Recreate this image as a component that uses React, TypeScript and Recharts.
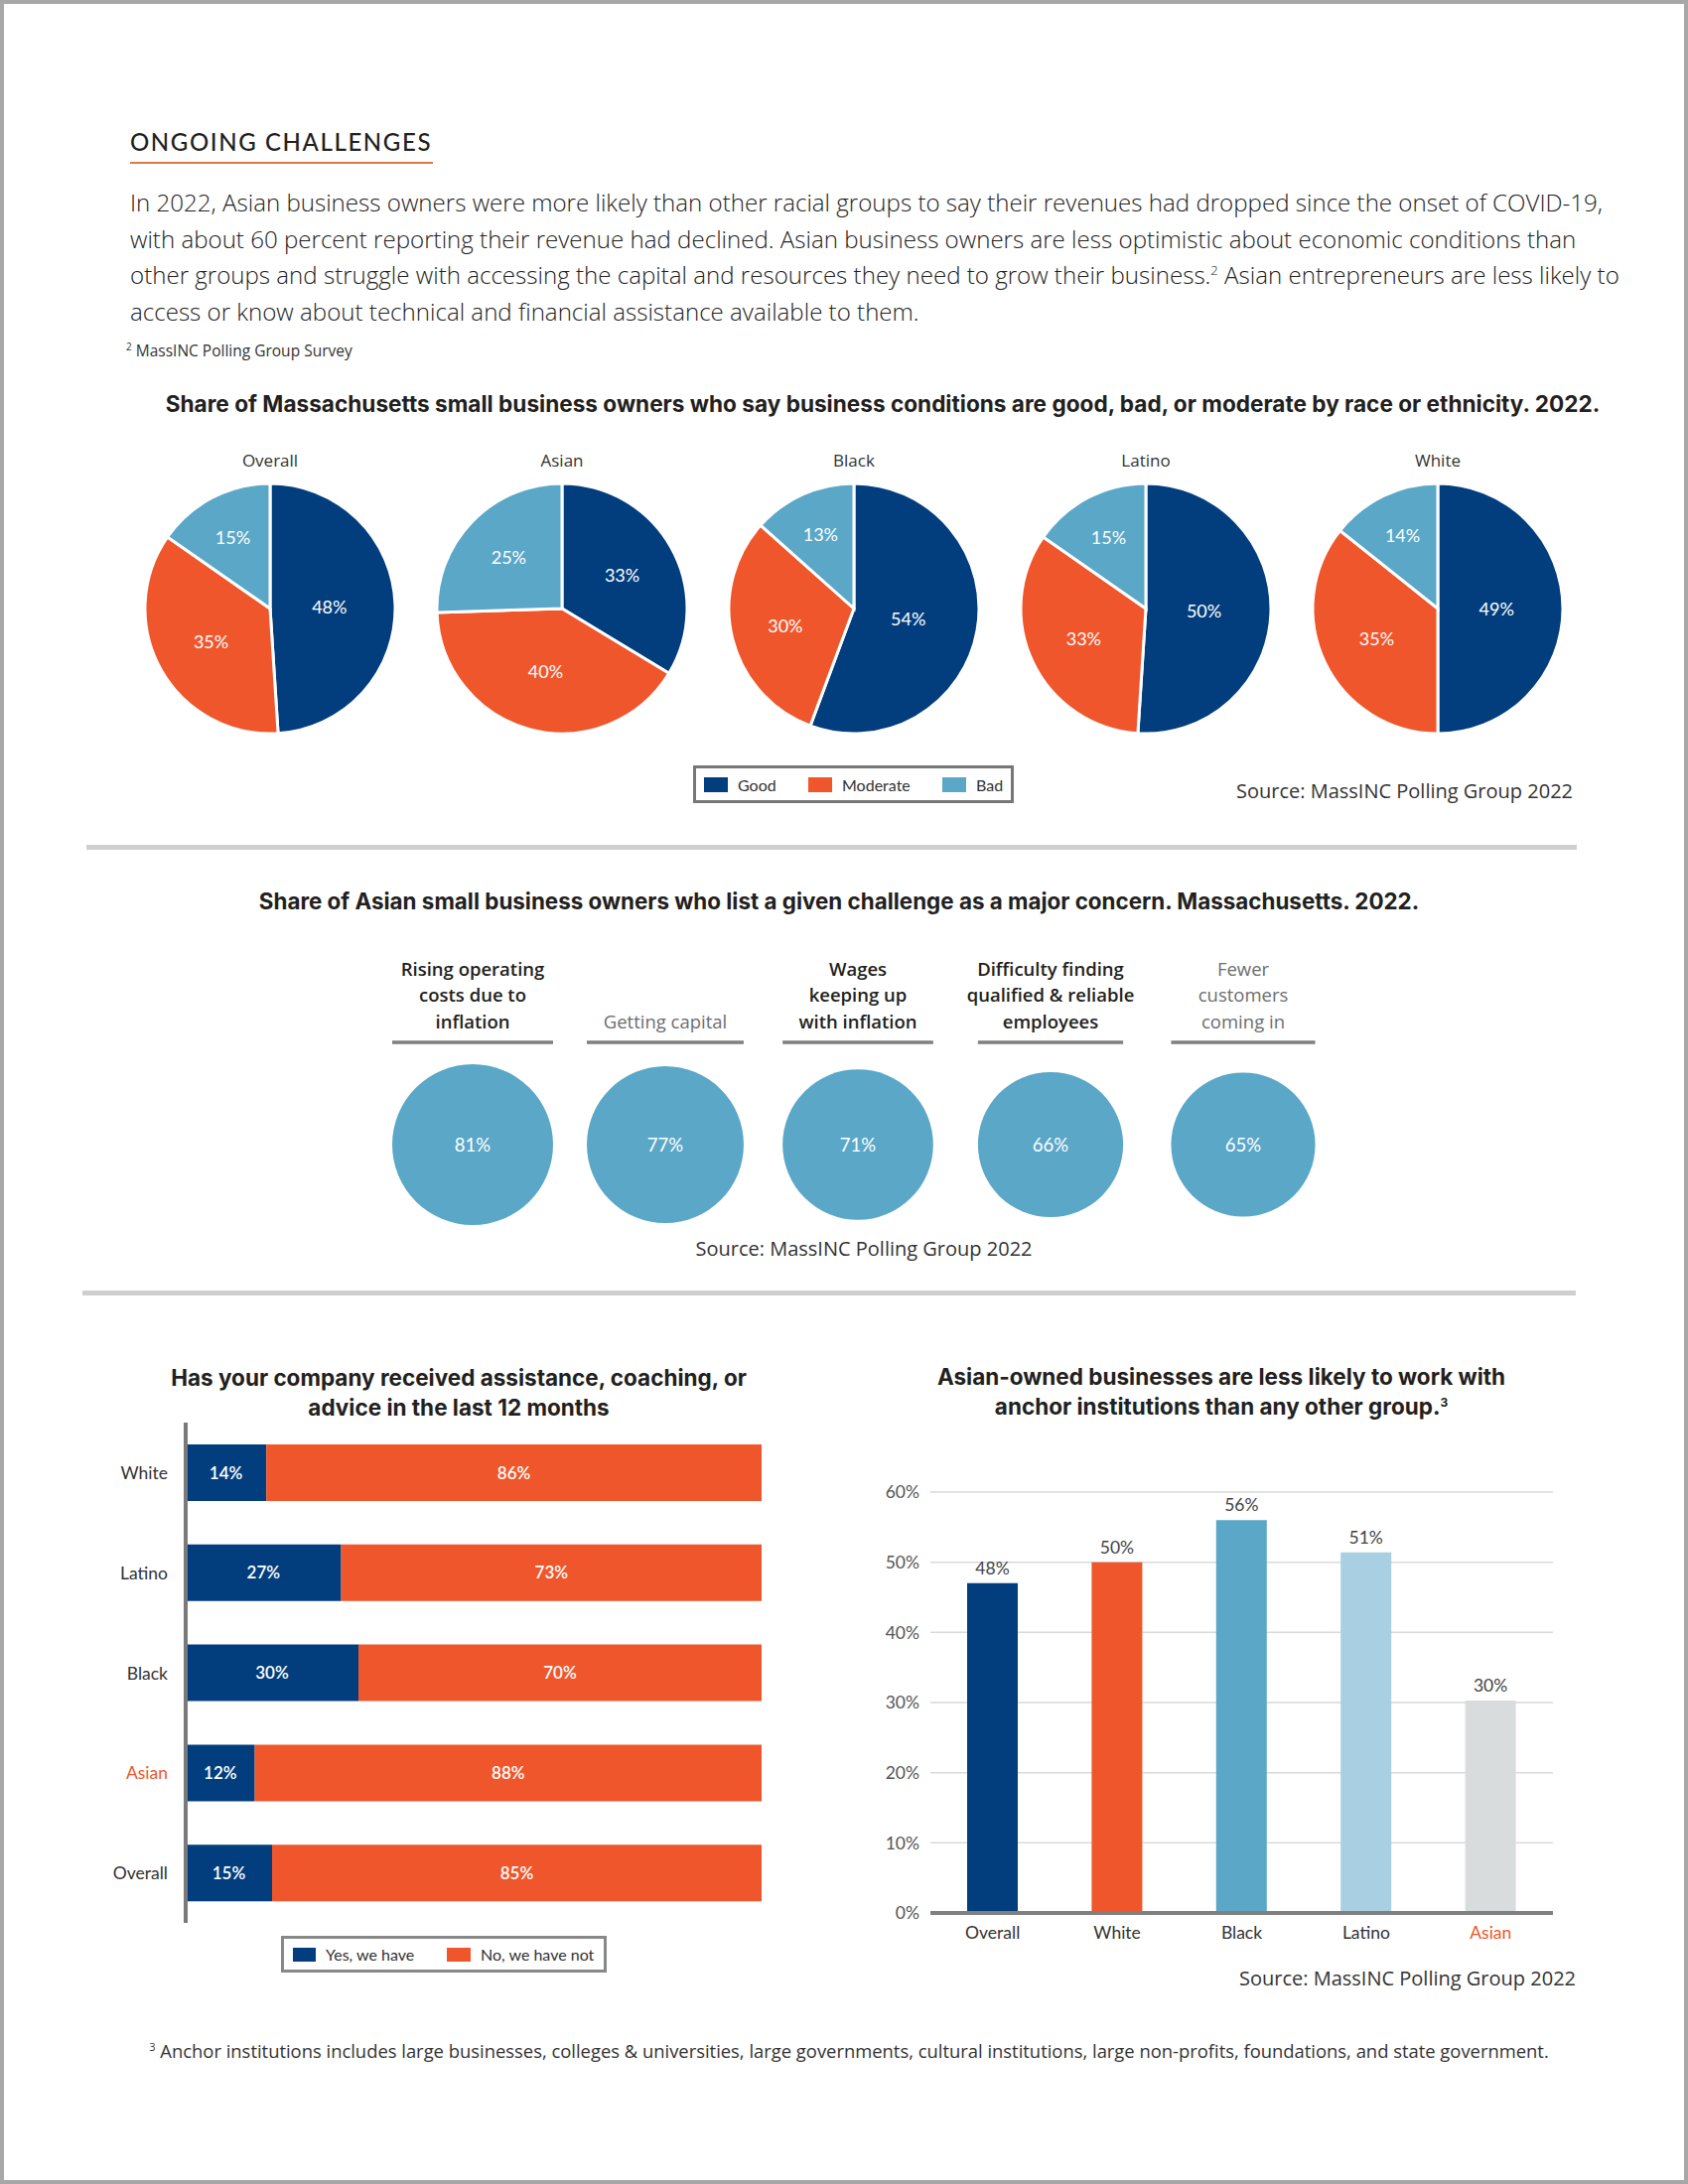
import React from "react";
import {
  Bar,
  BarChart,
  CartesianGrid,
  Cell,
  LabelList,
  Pie,
  PieChart,
  Scatter,
  ScatterChart,
  XAxis,
  YAxis,
  ZAxis,
} from "recharts";

// business conditions by race / ethnicity (2022)
const conditionGroups = ["Overall", "Asian", "Black", "Latino", "White"];
const conditionLevels = ["Good", "Moderate", "Bad"];
const goodShares = [48, 33, 54, 50, 49];
const moderateShares = [35, 40, 30, 33, 35];
const badShares = [15, 25, 13, 15, 14];

// major concerns of Asian owners
const challengeNames = [
  "Rising operating costs due to inflation",
  "Getting capital",
  "Wages keeping up with inflation",
  "Difficulty finding qualified & reliable employees",
  "Fewer customers coming in",
];
const challengeHeaderLines = [
  ["Rising operating", "costs due to", "inflation"],
  ["Getting capital"],
  ["Wages", "keeping up", "with inflation"],
  ["Difficulty finding", "qualified & reliable", "employees"],
  ["Fewer", "customers", "coming in"],
];
const challengeBold = [true, false, true, true, false];
const challengeShares = [81, 77, 71, 66, 65];

// assistance received in last 12 months
const assistanceGroups = ["White", "Latino", "Black", "Asian", "Overall"];
const assistanceYes = [14, 27, 30, 12, 15];
const assistanceNo = [86, 73, 70, 88, 85];

// work with anchor institutions
const anchorGroups = ["Overall", "White", "Black", "Latino", "Asian"];
const anchorShares = [47, 50, 56, 51.4, 30.3];
const anchorLabels = ["48%", "50%", "56%", "51%", "30%"];
const anchorTicks = [0, 10, 20, 30, 40, 50, 60];

const NAVY = "#023e7d";
const ORANGE = "#f0562b";
const SKY = "#5aa7c8";
const PALE = "#a9cfe3";
const GREY = "#d9dcdd";
const INK = "#231f20";
const FONT = "Lato, 'Open Sans', sans-serif";
const BODY = "'Open Sans', Lato, sans-serif";
const HEAD = "Inter, 'Open Sans', sans-serif";

const levelColors = [NAVY, ORANGE, SKY];
const anchorColors = [NAVY, ORANGE, SKY, PALE, GREY];

const pieData = conditionGroups.map((group, i) => ({
  group,
  rows: conditionLevels.map((level, k) => ({
    level,
    value: [goodShares, moderateShares, badShares][k][i],
  })),
}));

const challengeData = challengeNames.map((challenge, i) => ({
  challenge,
  share: challengeShares[i],
  row: "Asian",
}));

const assistanceData = assistanceGroups.map((group, i) => ({
  group,
  yes: assistanceYes[i],
  no: assistanceNo[i],
}));

const anchorData = anchorGroups.map((group, i) => ({
  group,
  share: anchorShares[i],
  label: anchorLabels[i],
}));

const BUBBLE_R100 = 90;

const renderPieLabel = (p: any) => {
  const rad = Math.PI / 180;
  const r = p.outerRadius * (0.72 - 0.5 * p.percent);
  const x = p.cx + r * Math.cos(-p.midAngle * rad);
  const y = p.cy + r * Math.sin(-p.midAngle * rad);
  return (
    <text x={x} y={y} fill="#fff" fontSize={18} fontFamily={FONT} textAnchor="middle" dominantBaseline="central">
      {p.value}%
    </text>
  );
};

const ChallengeTick = (props: any) => {
  const { x, y, payload } = props;
  const i = challengeNames.indexOf(payload.value);
  const lines = challengeHeaderLines[i];
  const bold = challengeBold[i];
  const w = 2 * BUBBLE_R100 * Math.sqrt(challengeShares[i] / 100);
  return (
    <g>
      {lines.map((ln, k) => (
        <text
          key={k}
          x={x}
          y={y - 14 - (lines.length - 1 - k) * 26.7}
          textAnchor="middle"
          fontSize={18.5}
          fontFamily={BODY}
          fontWeight={bold ? 600 : 400}
          fill={bold ? INK : "#6d6e71"}
        >
          {ln}
        </text>
      ))}
      <line x1={x - w / 2} x2={x + w / 2} y1={y} y2={y} stroke="#7f7f7f" strokeWidth={3.5} />
    </g>
  );
};

const GroupTick = (props: any) => {
  const { x, y, payload, textAnchor } = props;
  return (
    <text
      x={x}
      y={y}
      textAnchor={textAnchor}
      dominantBaseline="central"
      fontSize={17.5}
      fontFamily={FONT}
      fill={payload.value === "Asian" ? ORANGE : "#333"}
    >
      {payload.value}
    </text>
  );
};

const AnchorXTick = (props: any) => {
  const { x, y, payload } = props;
  return (
    <text
      x={x}
      y={y}
      dy="0.71em"
      textAnchor="middle"
      fontSize={17.5}
      fontFamily={FONT}
      fill={payload.value === "Asian" ? ORANGE : "#333"}
    >
      {payload.value}
    </text>
  );
};

const abs = (left: number, top: number, extra: React.CSSProperties = {}): React.CSSProperties => ({
  position: "absolute",
  left,
  top,
  ...extra,
});

const LegendSwatch = ({ color, label, w = 24, h = 15 }: { color: string; label: string; w?: number; h?: number }) => (
  <span style={{ display: "inline-flex", alignItems: "center" }}>
    <span style={{ display: "inline-block", width: w, height: h, background: color, marginRight: 10 }} />
    <span>{label}</span>
  </span>
);

export default function App() {
  return (
    <div
      style={{
        position: "relative",
        width: 1700,
        height: 2200,
        boxSizing: "border-box",
        border: "4px solid #a8a8a8",
        background: "#fff",
        fontFamily: FONT,
        color: INK,
        overflow: "hidden",
      }}
    >
      <style>{"body{margin:0}"}</style>
      <div style={{ position: "absolute", left: -4, top: -4, width: 1700, height: 2200 }}>
        {/* heading */}
        <div style={abs(131, 128, { fontSize: 24, fontWeight: 500, letterSpacing: 1.6, lineHeight: "30px" })}>
          ONGOING CHALLENGES
        </div>
        <div style={abs(131, 163, { width: 305, height: 2, background: "#dc7a44" })} />

        <div
          style={abs(131, 186, {
            fontFamily: BODY,
            fontWeight: 300,
            fontSize: 24.1,
            lineHeight: "36.7px",
            color: "#222",
            whiteSpace: "nowrap",
          })}
        >
          In 2022, Asian business owners were more likely than other racial groups to say their revenues had dropped since the onset of COVID-19,
          <br />
          with about 60 percent reporting their revenue had declined. Asian business owners are less optimistic about economic conditions than
          <br />
          other groups and struggle with accessing the capital and resources they need to grow their business.
          <sup style={{ fontSize: 13, lineHeight: 0 }}>2</sup> Asian entrepreneurs are less likely to
          <br />
          access or know about technical and financial assistance available to them.
        </div>
        <div style={abs(127, 343, { fontFamily: BODY, fontSize: 15.5, lineHeight: "20px", color: "#333" })}>
          <sup style={{ fontSize: 10, lineHeight: 0 }}>2</sup> MassINC Polling Group Survey
        </div>

        {/* chart 1: pies */}
        <div
          style={abs(89, 393, {
            width: 1600,
            textAlign: "center",
            fontFamily: HEAD,
            fontSize: 22.6,
            fontWeight: 700,
            lineHeight: "28px",
          })}
        >
          Share of Massachusetts small business owners who say business conditions are good, bad, or moderate by race or ethnicity. 2022.
        </div>
        <div style={abs(125, 448, { display: "flex", width: 1470 })}>
          {pieData.map((g) => (
            <div key={g.group} style={{ width: 294, textAlign: "center" }}>
              <div
                style={{
                  fontFamily: BODY,
                  fontSize: 17,
                  lineHeight: "24px",
                  color: "#333",
                  height: 30,
                  paddingTop: 4,
                  boxSizing: "border-box",
                }}
              >
                {g.group}
              </div>
              <PieChart width={294} height={270}>
                <Pie
                  data={g.rows}
                  dataKey="value"
                  nameKey="level"
                  cx="50%"
                  cy="50%"
                  outerRadius={126}
                  startAngle={90}
                  endAngle={-270}
                  stroke="#fff"
                  strokeWidth={3}
                  label={renderPieLabel}
                  labelLine={false}
                  isAnimationActive={false}
                >
                  {g.rows.map((r, k) => (
                    <Cell key={r.level} fill={levelColors[k]} />
                  ))}
                </Pie>
              </PieChart>
            </div>
          ))}
        </div>

        <div
          style={abs(698, 771, {
            width: 323,
            height: 38,
            boxSizing: "border-box",
            border: "3px solid #777",
            fontSize: 16,
            color: "#333",
          })}
        >
          <span style={{ position: "absolute", left: 8, top: 7 }}>
            <LegendSwatch color={NAVY} label={conditionLevels[0]} />
          </span>
          <span style={{ position: "absolute", left: 113, top: 7 }}>
            <LegendSwatch color={ORANGE} label={conditionLevels[1]} />
          </span>
          <span style={{ position: "absolute", left: 248, top: 7 }}>
            <LegendSwatch color={SKY} label={conditionLevels[2]} />
          </span>
        </div>
        <div style={abs(1245, 784, { fontFamily: BODY, fontSize: 20, lineHeight: "26px", color: "#333" })}>
          Source: MassINC Polling Group 2022
        </div>

        <div style={abs(87, 851, { width: 1501, height: 5, background: "#cfcfcf" })} />

        {/* chart 2: bubbles */}
        <div
          style={abs(45, 894, {
            width: 1600,
            textAlign: "center",
            fontFamily: HEAD,
            fontSize: 22.4,
            fontWeight: 700,
            lineHeight: "28px",
          })}
        >
          Share of Asian small business owners who list a given challenge as a major concern. Massachusetts. 2022.
        </div>
        <div style={abs(379, 948)}>
          <ScatterChart width={970} height={300} margin={{ top: 0, right: 0, bottom: 0, left: 0 }}>
            <XAxis
              dataKey="challenge"
              type="category"
              orientation="top"
              height={110}
              axisLine={false}
              tickLine={false}
              interval={0}
              allowDuplicatedCategory={false}
              tick={<ChallengeTick />}
            />
            <YAxis dataKey="row" type="category" allowDuplicatedCategory={false} hide />
            <ZAxis dataKey="share" type="number" domain={[0, 100]} range={[0, Math.PI * BUBBLE_R100 * BUBBLE_R100]} />
            <Scatter data={challengeData} fill={SKY} shape="circle" isAnimationActive={false}>
              <LabelList
                dataKey="share"
                position="center"
                fill="#fff"
                fontSize={18.5}
                fontFamily={FONT}
                formatter={(v: any) => `${v}%`}
              />
            </Scatter>
          </ScatterChart>
        </div>
        <div
          style={abs(470, 1245, {
            width: 800,
            textAlign: "center",
            fontFamily: BODY,
            fontSize: 20,
            lineHeight: "26px",
            color: "#333",
          })}
        >
          Source: MassINC Polling Group 2022
        </div>

        <div style={abs(83, 1300, { width: 1504, height: 5, background: "#cfcfcf" })} />

        {/* chart 3: assistance stacked bars */}
        <div
          style={abs(162, 1373, {
            width: 600,
            textAlign: "center",
            fontFamily: HEAD,
            fontSize: 22.5,
            fontWeight: 700,
            lineHeight: "29.5px",
          })}
        >
          Has your company received assistance, coaching, or
          <br />
          advice in the last 12 months
        </div>
        <div style={abs(87, 1433)}>
          <BarChart
            layout="vertical"
            width={680}
            height={504}
            data={assistanceData}
            margin={{ top: 0, right: 0, bottom: 0, left: 0 }}
            barSize={57}
          >
            <XAxis type="number" domain={[0, 100]} hide />
            <YAxis
              type="category"
              dataKey="group"
              width={100}
              axisLine={{ stroke: "#7a7a7a", strokeWidth: 4 }}
              tickLine={false}
              tickMargin={12}
              tick={<GroupTick />}
            />
            <Bar dataKey="yes" stackId="a" fill={NAVY} isAnimationActive={false}>
              <LabelList
                dataKey="yes"
                position="center"
                fill="#fff"
                fontSize={17}
                fontFamily={FONT}
                fontWeight={600}
                formatter={(v: any) => `${v}%`}
              />
            </Bar>
            <Bar dataKey="no" stackId="a" fill={ORANGE} isAnimationActive={false}>
              <LabelList
                dataKey="no"
                position="center"
                fill="#fff"
                fontSize={17}
                fontFamily={FONT}
                fontWeight={600}
                formatter={(v: any) => `${v}%`}
              />
            </Bar>
          </BarChart>
        </div>
        <div
          style={abs(283, 1950, {
            width: 328,
            height: 37,
            boxSizing: "border-box",
            border: "3px solid #888",
            fontSize: 16,
            color: "#333",
          })}
        >
          <span style={{ position: "absolute", left: 9, top: 6 }}>
            <LegendSwatch color={NAVY} label="Yes, we have" w={23} h={14} />
          </span>
          <span style={{ position: "absolute", left: 164, top: 6 }}>
            <LegendSwatch color={ORANGE} label="No, we have not" w={24} h={14} />
          </span>
        </div>

        {/* chart 4: anchor institutions */}
        <div
          style={abs(930, 1372, {
            width: 600,
            textAlign: "center",
            fontFamily: HEAD,
            fontSize: 22.5,
            fontWeight: 700,
            lineHeight: "29.5px",
          })}
        >
          Asian-owned businesses are less likely to work with
          <br />
          anchor institutions than any other group.
          <sup style={{ fontSize: 12, lineHeight: 0 }}>3</sup>
        </div>
        <div style={abs(867, 1483)}>
          <BarChart
            width={697}
            height={484}
            data={anchorData}
            margin={{ top: 20, right: 0, bottom: 0, left: 0 }}
            barSize={51}
          >
            <CartesianGrid vertical={false} stroke="#d9d9d9" strokeWidth={1.5} />
            <YAxis
              type="number"
              domain={[0, 60]}
              ticks={anchorTicks}
              width={70}
              axisLine={false}
              tickLine={false}
              tickMargin={5}
              tickFormatter={(v: number) => `${v}%`}
              tick={{ fontSize: 17.5, fontFamily: FONT, fill: "#555" }}
            />
            <XAxis
              dataKey="group"
              type="category"
              height={40}
              axisLine={{ stroke: "#808080", strokeWidth: 4 }}
              tickLine={false}
              tickMargin={8}
              tick={<AnchorXTick />}
            />
            <Bar dataKey="share" isAnimationActive={false}>
              {anchorData.map((d, i) => (
                <Cell key={d.group} fill={anchorColors[i]} />
              ))}
              <LabelList dataKey="label" position="top" offset={9} fill="#444" fontSize={17.5} fontFamily={FONT} />
            </Bar>
          </BarChart>
        </div>
        <div style={abs(1248, 1980, { fontFamily: BODY, fontSize: 20, lineHeight: "26px", color: "#333" })}>
          Source: MassINC Polling Group 2022
        </div>

        <div
          style={abs(55, 2055, {
            width: 1600,
            textAlign: "center",
            fontFamily: BODY,
            fontSize: 18.4,
            lineHeight: "22px",
            color: "#333",
          })}
        >
          <sup style={{ fontSize: 11, lineHeight: 0 }}>3</sup> Anchor institutions includes large businesses, colleges &amp; universities, large governments, cultural institutions, large non-profits, foundations, and state government.
        </div>
      </div>
    </div>
  );
}
